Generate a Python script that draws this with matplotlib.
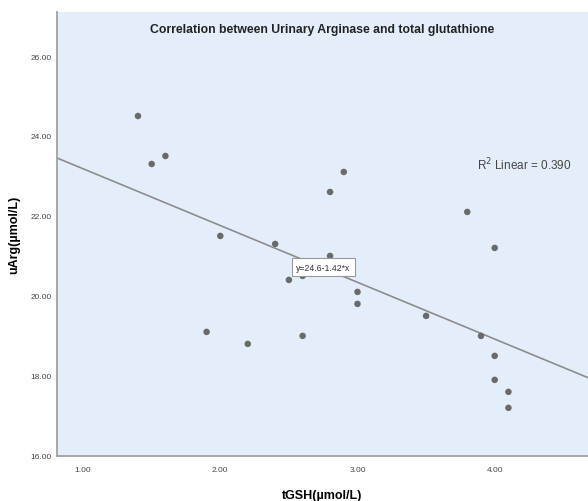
import numpy as np
import matplotlib.pyplot as plt

# data
tgsh = [1.4, 1.5, 1.6, 2.0, 2.4, 1.9, 2.2, 2.5, 2.6, 2.6, 2.8, 3.0, 3.0, 3.5,
        3.9, 4.0, 4.0, 4.1, 4.1, 2.9, 2.8, 3.8, 4.0]
uarg = [24.5, 23.3, 23.5, 21.5, 21.3, 19.1, 18.8, 20.4, 20.5, 19.0, 21.0, 20.1,
        19.8, 19.5, 19.0, 18.5, 17.9, 17.6, 17.2, 23.1, 22.6, 22.1, 21.2]
fit_intercept = 24.6
fit_slope = -1.42
r2 = 0.390
xticks = [1.0, 2.0, 3.0, 4.0]
yticks = [16.0, 18.0, 20.0, 22.0, 24.0, 26.0]

plt.rcParams['font.family'] = ['Liberation Sans', 'DejaVu Sans']

fig = plt.figure(figsize=(5.88, 5.02), dpi=100)
ax = fig.add_axes([0.097, 0.090, 0.903, 0.884])
ax.set_facecolor('#e3eefa')

xlim = (0.81, 4.68)
ax.set_xlim(*xlim)
ax.set_ylim(16, 27.1)

# fit line
xs = np.array(xlim)
ax.plot(xs, fit_intercept + fit_slope * xs, color='#8c8c8c', lw=1.2, zorder=2)

ax.scatter(tgsh, uarg, s=22, color='#6a6a6a', edgecolors='none', zorder=3)

# equation label
ax.text(2.555, 20.72, f"y={fit_intercept}{fit_slope}*x", fontsize=6.3, va='center',
        ha='left', color='#333333', zorder=4,
        bbox=dict(boxstyle='square,pad=0.5', fc='white', ec='#999999', lw=0.8))

ax.text(3.87, 23.31, f"R$^2$ Linear = {r2:.3f}", fontsize=8.5, color='#444444',
        va='center', ha='left')

ax.text(0.5, 0.975, "Correlation between Urinary Arginase and total glutathione",
        transform=ax.transAxes, ha='center', va='top', fontsize=8.8,
        fontweight='bold', color='#222222')

ax.set_xticks(xticks)
ax.set_xticklabels([f"{v:.2f}" for v in xticks])
ax.set_yticks(yticks)
ax.set_yticklabels([f"{v:.2f}" for v in yticks])
ax.tick_params(axis='x', length=0, labelsize=6, colors='#444444', pad=7)
ax.tick_params(axis='y', length=0, labelsize=6, colors='#444444', pad=4)

for s in ['top', 'right']:
    ax.spines[s].set_visible(False)
for s in ['left', 'bottom']:
    ax.spines[s].set_color('#9a9a9a')
    ax.spines[s].set_linewidth(1.2)

ax.set_xlabel("tGSH(µmol/L)", fontsize=9, fontweight='bold', labelpad=12)
ax.set_ylabel("uArg(µmol/L)", fontsize=9, fontweight='bold', labelpad=7)

fig.savefig("out.png", dpi=100)
